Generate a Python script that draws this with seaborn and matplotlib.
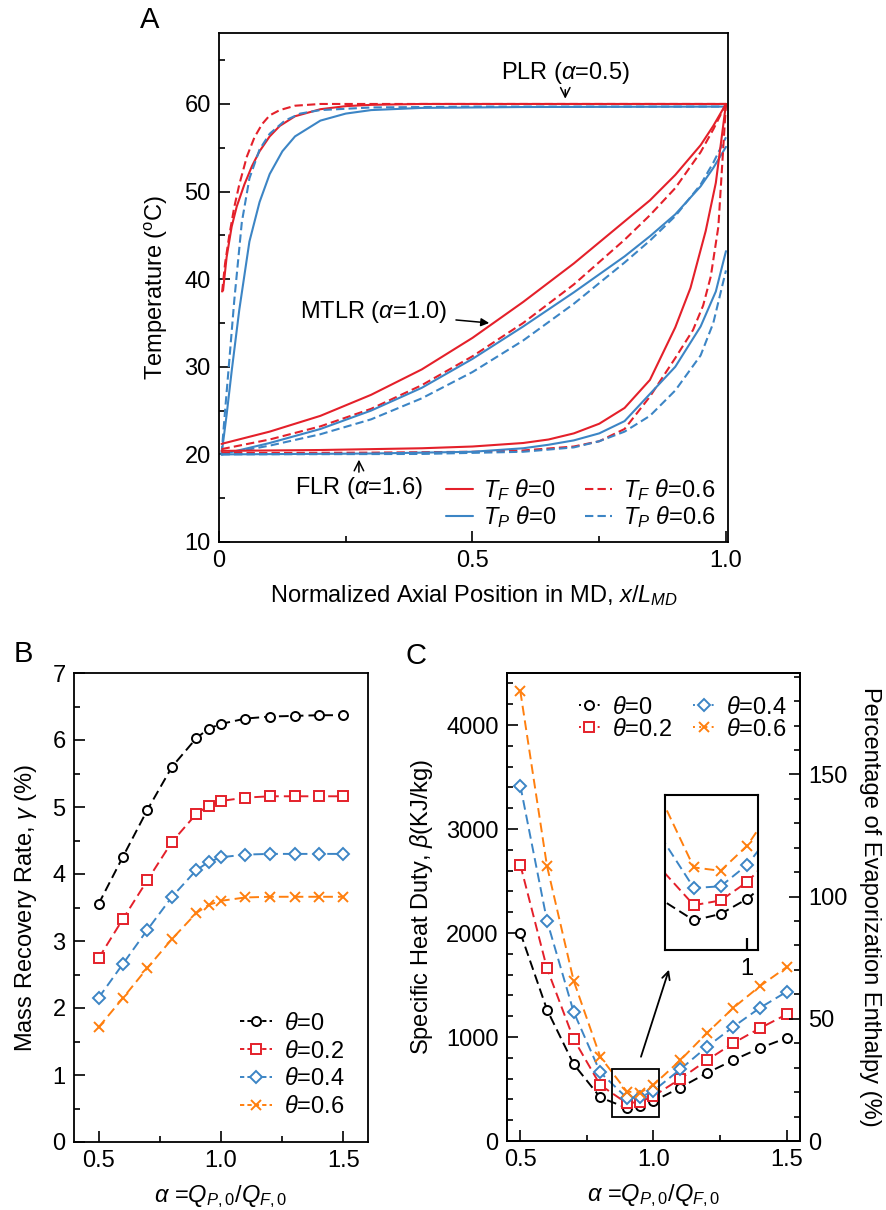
import matplotlib
matplotlib.use("Agg")
import matplotlib.pyplot as plt
import seaborn as sns
from matplotlib.ticker import MultipleLocator, FixedLocator
from matplotlib.patches import Rectangle
from matplotlib.lines import Line2D

# ---------------- Panel A data ----------------
plr_tf0_x = [0.008, 0.015, 0.025, 0.035, 0.05, 0.065, 0.08, 0.1, 0.12, 0.15, 0.2, 0.25, 0.3, 0.4, 1.0]
plr_tf0_y = [38.7, 42.5, 46.0, 48.3, 50.8, 52.9, 54.6, 56.3, 57.5, 58.6, 59.4, 59.75, 59.9, 60.0, 60.0]
plr_tf6_x = [0.006, 0.012, 0.02, 0.03, 0.04, 0.055, 0.07, 0.085, 0.1, 0.12, 0.15, 0.2, 0.3, 1.0]
plr_tf6_y = [38.5, 41.8, 44.9, 48.2, 50.8, 54.0, 56.2, 57.7, 58.7, 59.3, 59.8, 60.0, 60.0, 60.0]
plr_tp0_x = [0.005, 0.015, 0.025, 0.04, 0.06, 0.08, 0.1, 0.125, 0.15, 0.2, 0.25, 0.3, 0.4, 0.6, 1.0]
plr_tp0_y = [20.0, 24.5, 29.5, 36.5, 44.3, 48.8, 52.0, 54.6, 56.3, 58.1, 58.9, 59.3, 59.55, 59.65, 59.7]
plr_tp6_x = [0.005, 0.012, 0.02, 0.03, 0.045, 0.06, 0.08, 0.1, 0.13, 0.16, 0.2, 0.3, 0.5, 1.0]
plr_tp6_y = [20.0, 25.0, 30.5, 37.5, 46.5, 51.5, 54.8, 56.6, 58.1, 58.9, 59.3, 59.6, 59.7, 59.7]

mtlr_x = [0.005, 0.1, 0.2, 0.3, 0.4, 0.5, 0.6, 0.7, 0.8, 0.85, 0.9, 0.95, 0.975, 1.0]
mtlr_tf0_y = [21.2, 22.6, 24.4, 26.8, 29.7, 33.3, 37.4, 41.8, 46.6, 49.0, 51.9, 55.3, 57.5, 60.0]
mtlr_tf6_y = [20.6, 21.7, 23.2, 25.2, 27.9, 31.2, 35.0, 39.4, 44.5, 47.3, 50.4, 54.5, 57.1, 60.0]
mtlr_tp0_y = [20.0, 21.3, 22.9, 25.0, 27.6, 30.9, 34.6, 38.5, 42.6, 44.9, 47.4, 50.6, 52.7, 55.1]
mtlr_tp6_y = [20.0, 21.0, 22.3, 24.0, 26.4, 29.4, 33.0, 37.2, 41.9, 44.4, 47.2, 50.8, 53.3, 56.2]

flr_tf0_x = [0.005, 0.2, 0.4, 0.5, 0.6, 0.65, 0.7, 0.75, 0.8, 0.85, 0.9, 0.93, 0.96, 0.98, 1.0]
flr_tf0_y = [20.4, 20.5, 20.7, 20.9, 21.3, 21.7, 22.4, 23.5, 25.3, 28.5, 34.5, 39.0, 45.5, 51.0, 60.0]
flr_tf6_x = [0.005, 0.3, 0.5, 0.6, 0.7, 0.75, 0.8, 0.85, 0.9, 0.935, 0.955, 0.97, 0.985, 1.0]
flr_tf6_y = [20.15, 20.2, 20.3, 20.45, 20.9, 21.5, 22.9, 26.6, 31.0, 34.2, 37.0, 40.3, 46.0, 60.0]
flr_tp0_x = [0.005, 0.3, 0.5, 0.6, 0.65, 0.7, 0.75, 0.8, 0.85, 0.9, 0.95, 0.98, 1.0]
flr_tp0_y = [20.0, 20.1, 20.3, 20.7, 21.1, 21.6, 22.4, 23.8, 26.9, 30.0, 34.6, 38.6, 43.2]
flr_tp6_x = [0.005, 0.4, 0.6, 0.7, 0.75, 0.8, 0.85, 0.9, 0.95, 0.975, 1.0]
flr_tp6_y = [20.0, 20.05, 20.3, 20.8, 21.5, 22.6, 24.4, 27.3, 31.3, 35.0, 41.0]

# ---------------- Panel B / C data ----------------
alpha = [0.5, 0.6, 0.7, 0.8, 0.9, 0.95, 1.0, 1.1, 1.2, 1.3, 1.4, 1.5]
theta_labels = ["0", "0.2", "0.4", "0.6"]
gamma_t0 = [3.55, 4.26, 4.96, 5.60, 6.03, 6.17, 6.24, 6.32, 6.35, 6.36, 6.37, 6.37]
gamma_t2 = [2.74, 3.33, 3.91, 4.48, 4.90, 5.02, 5.09, 5.14, 5.16, 5.16, 5.16, 5.16]
gamma_t4 = [2.15, 2.66, 3.17, 3.66, 4.06, 4.18, 4.25, 4.29, 4.30, 4.30, 4.30, 4.30]
gamma_t6 = [1.71, 2.15, 2.60, 3.03, 3.42, 3.54, 3.60, 3.65, 3.66, 3.66, 3.66, 3.66]
beta_t0 = [2003, 1264, 740, 419, 318, 337, 382, 513, 653, 778, 894, 991]
beta_t2 = [2656, 1661, 981, 538, 363, 377, 432, 597, 775, 942, 1085, 1218]
beta_t4 = [3417, 2119, 1243, 660, 414, 419, 483, 688, 904, 1099, 1281, 1435]
beta_t6 = [4325, 2646, 1543, 810, 475, 465, 540, 775, 1037, 1281, 1490, 1672]
evap_enthalpy = 2350.0  # KJ/kg, 100 % on right axis

# ---------------- style ----------------
sns.set_theme(style="ticks")
plt.rcParams.update({
    "font.family": ["Liberation Sans", "DejaVu Sans"],
    "mathtext.fontset": "custom",
    "mathtext.rm": "Liberation Sans",
    "mathtext.it": "Liberation Sans:italic",
    "mathtext.bf": "Liberation Sans:bold",
    "axes.linewidth": 1.3,
    "axes.edgecolor": "black",
    "text.color": "black",
    "axes.labelcolor": "black",
    "xtick.color": "black",
    "ytick.color": "black",
})
FS = 17
RED = "#e4202a"
BLUE = "#3c85c5"
ORANGE = "#ff7f0e"
BLACK = "#000000"

fig = plt.figure(figsize=(8.87, 12.10), dpi=100)
W, H = 887.0, 1210.0


def add_axes(l, t, r, b):
    return fig.add_axes([l / W, 1 - b / H, (r - l) / W, (b - t) / H])


def style_ax(ax, right=False):
    ax.tick_params(which="both", direction="in", top=False, right=right,
                   width=1.2, labelsize=FS, pad=6)
    ax.tick_params(which="major", length=8)
    ax.tick_params(which="minor", length=4)
    for s in ax.spines.values():
        s.set_linewidth(1.3)
        s.set_color("black")


# ================= Panel A =================
axA = add_axes(219, 33, 728, 542)
DASH_A = (0, (4, 2))
curvesA = [
    (plr_tf0_x, plr_tf0_y, RED, "-"), (plr_tf6_x, plr_tf6_y, RED, "--"),
    (plr_tp0_x, plr_tp0_y, BLUE, "-"), (plr_tp6_x, plr_tp6_y, BLUE, "--"),
    (mtlr_x, mtlr_tf0_y, RED, "-"), (mtlr_x, mtlr_tf6_y, RED, "--"),
    (mtlr_x, mtlr_tp0_y, BLUE, "-"), (mtlr_x, mtlr_tp6_y, BLUE, "--"),
    (flr_tf0_x, flr_tf0_y, RED, "-"), (flr_tf6_x, flr_tf6_y, RED, "--"),
    (flr_tp0_x, flr_tp0_y, BLUE, "-"), (flr_tp6_x, flr_tp6_y, BLUE, "--"),
]
for xs, ys, c, ls in curvesA:
    lsty = "-" if ls == "-" else DASH_A
    sns.lineplot(x=xs, y=ys, ax=axA, color=c, linestyle=lsty, linewidth=1.5,
                 estimator=None, sort=False)
style_ax(axA)
axA.set_xlim(0, 1.004)
axA.set_ylim(10, 68.1)
axA.xaxis.set_major_locator(FixedLocator([0, 0.5, 1.0]))
axA.set_xticklabels(["0", "0.5", "1.0"])
axA.xaxis.set_minor_locator(MultipleLocator(0.25))
axA.yaxis.set_major_locator(FixedLocator([10, 20, 30, 40, 50, 60]))
axA.yaxis.set_minor_locator(MultipleLocator(5))
axA.set_xlabel("Normalized Axial Position in MD, $x/L_{MD}$", fontsize=FS, labelpad=8)
axA.set_ylabel("Temperature ($^{\\mathrm{o}}$C)", fontsize=FS, labelpad=10)

hA = [Line2D([], [], color=RED, lw=1.5), Line2D([], [], color=BLUE, lw=1.5),
      Line2D([], [], color=RED, lw=1.5, ls=DASH_A),
      Line2D([], [], color=BLUE, lw=1.5, ls=DASH_A)]
lA = ["$T_F$ $\\theta$=0", "$T_P$ $\\theta$=0", "$T_F$ $\\theta$=0.6", "$T_P$ $\\theta$=0.6"]
axA.legend(hA, lA, ncol=2, loc="lower right", bbox_to_anchor=(1.0, 0.0),
           frameon=False, fontsize=FS, handlelength=1.15, handletextpad=0.45,
           columnspacing=1.2, labelspacing=0.05, borderaxespad=0.1)

axA.annotate("PLR ($\\alpha$=0.5)", xy=(0.683, 60.6), xytext=(0.683, 62.0),
             ha="center", va="bottom", fontsize=FS,
             arrowprops=dict(arrowstyle="->", lw=1.1, color="black",
                             shrinkA=0, shrinkB=0))
axA.annotate("MTLR ($\\alpha$=1.0)", xy=(0.533, 35.0), xytext=(0.45, 36.2),
             ha="right", va="center", fontsize=FS,
             arrowprops=dict(arrowstyle="-|>", lw=1.1, color="black",
                             shrinkA=4, shrinkB=0, mutation_scale=12))
axA.annotate("FLR ($\\alpha$=1.6)", xy=(0.276, 19.4), xytext=(0.276, 17.6),
             ha="center", va="top", fontsize=FS,
             arrowprops=dict(arrowstyle="->", lw=1.1, color="black",
                             shrinkA=0, shrinkB=0))
fig.text(150 / W, 1 - 20 / H, "A", fontsize=21, ha="center", va="center")

# ================= Panel B / C =================
markers = ["o", "s", "D", "x"]
colors = [BLACK, RED, BLUE, ORANGE]
msizes = [6.5, 6.5, 6.2, 7]
gammas = [gamma_t0, gamma_t2, gamma_t4, gamma_t6]
betas = [beta_t0, beta_t2, beta_t4, beta_t6]
DASH = (0, (5, 2.6))


def draw_series(ax, ys_list):
    handles = []
    for ys, c, m, ms in zip(ys_list, colors, markers, msizes):
        sns.lineplot(x=alpha, y=ys, ax=ax, color=c, linestyle=DASH, linewidth=1.4,
                     marker=m, markersize=ms, markerfacecolor="white",
                     markeredgecolor=c, markeredgewidth=1.4, estimator=None)
        handles.append(ax.lines[-1])
    return handles


def legend_handles(ls):
    return [Line2D([], [], color=c, ls=ls, lw=1.4, marker=m, markersize=ms,
                   markerfacecolor="white", markeredgecolor=c, markeredgewidth=1.4)
            for c, m, ms in zip(colors, markers, msizes)]


axB = add_axes(74, 673, 368, 1142)
draw_series(axB, gammas)
style_ax(axB)
axB.set_xlim(0.4, 1.6)
axB.set_ylim(0, 7)
axB.xaxis.set_major_locator(FixedLocator([0.5, 1.0, 1.5]))
axB.set_xticklabels(["0.5", "1.0", "1.5"])
axB.xaxis.set_minor_locator(MultipleLocator(0.25))
axB.yaxis.set_major_locator(MultipleLocator(1))
axB.yaxis.set_minor_locator(MultipleLocator(0.5))
axB.set_xlabel("$\\alpha$ =$Q_{P,0}/Q_{F,0}$", fontsize=FS, labelpad=8)
axB.set_ylabel("Mass Recovery Rate, $\\gamma$ (%)", fontsize=FS, labelpad=10)
axB.legend(legend_handles((0, (2.2, 1.6))), ["$\\theta$=" + t for t in theta_labels],
           loc="lower right", bbox_to_anchor=(1.0, 0.0), frameon=False, fontsize=FS,
           handlelength=1.35, handletextpad=0.5, labelspacing=0.25, borderaxespad=0.6)
fig.text(23 / W, 1 - 654 / H, "B", fontsize=21, ha="center", va="center")

axC = add_axes(507, 673, 800, 1141)
draw_series(axC, betas)
style_ax(axC)
axC.set_xlim(0.45, 1.55)
axC.set_ylim(0, 4500)
axC.xaxis.set_major_locator(FixedLocator([0.5, 1.0, 1.5]))
axC.set_xticklabels(["0.5", "1.0", "1.5"])
axC.xaxis.set_minor_locator(MultipleLocator(0.25))
axC.yaxis.set_major_locator(MultipleLocator(1000))
axC.yaxis.set_minor_locator(MultipleLocator(200))
axC.set_xlabel("$\\alpha$ =$Q_{P,0}/Q_{F,0}$", fontsize=FS, labelpad=8)
axC.set_ylabel("Specific Heat Duty, $\\beta$(KJ/kg)", fontsize=FS, labelpad=8)
axC.legend(legend_handles((0, (1.0, 2.2))), ["$\\theta$=" + t for t in theta_labels],
           ncol=2, loc="upper center", bbox_to_anchor=(0.60, 0.995), frameon=False,
           fontsize=FS, handlelength=0.9, handletextpad=0.5, labelspacing=0.0,
           columnspacing=0.9)

ax2 = axC.twinx()
style_ax(ax2, right=True)
ax2.tick_params(which="both", left=False, right=True, labelleft=False, labelright=True)
ax2.set_ylim(0, 4500 / evap_enthalpy * 100)
ax2.yaxis.set_major_locator(FixedLocator([0, 50, 100, 150]))
ax2.yaxis.set_minor_locator(MultipleLocator(10))
ax2.set_ylabel("Percentage of Evaporization Enthalpy (%)", fontsize=FS,
               rotation=270, labelpad=24)
fig.text(416 / W, 1 - 656 / H, "C", fontsize=21, ha="center", va="center")

# inset
ins_x = (0.846, 1.02)
ins_y = (230, 690)
axC.add_patch(Rectangle((ins_x[0], ins_y[0]), ins_x[1] - ins_x[0], ins_y[1] - ins_y[0],
                        fill=False, edgecolor="black", lw=1.3, zorder=5))
axC.annotate("", xy=(1.058, 1647), xytext=(0.953, 810),
             arrowprops=dict(arrowstyle="->", lw=1.3, color="black",
                             shrinkA=0, shrinkB=0, mutation_scale=14))
axI = add_axes(665, 795, 758, 950)
draw_series(axI, betas)
axI.set_xlim(*ins_x)
axI.set_ylim(*ins_y)
for s in axI.spines.values():
    s.set_linewidth(1.5)
axI.set_yticks([])
axI.xaxis.set_major_locator(FixedLocator([1.0]))
axI.set_xticklabels(["1"])
axI.tick_params(axis="x", direction="in", length=9, width=1.6, labelsize=FS, pad=6)
axI.set_xlabel("")
axI.set_ylabel("")

fig.savefig("out.png", dpi=100)
